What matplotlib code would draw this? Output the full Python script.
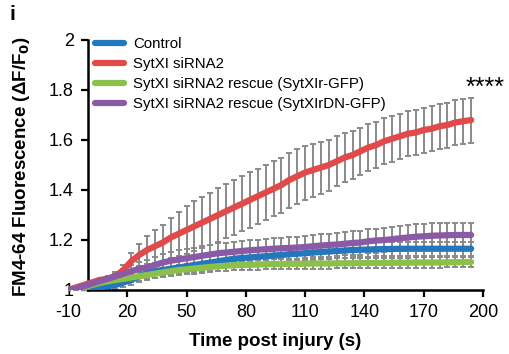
import numpy as np
from matplotlib import pyplot as plt

plt.rcParams['font.family'] = ['Liberation Sans', 'DejaVu Sans']
plt.rcParams['axes.unicode_minus'] = False

# time points (s)
time_s = list(range(-10, 195, 4))

control = [1.00, 1.00, 1.005, 1.01, 1.012, 1.015, 1.02, 1.03, 1.04, 1.055,
           1.068, 1.075, 1.08, 1.085, 1.09, 1.095, 1.10, 1.105, 1.11, 1.115,
           1.12, 1.125, 1.128, 1.13, 1.133, 1.135, 1.138, 1.14, 1.143, 1.145,
           1.147, 1.15, 1.152, 1.154, 1.156, 1.158, 1.16, 1.161, 1.162, 1.163,
           1.164, 1.164, 1.165, 1.165, 1.165, 1.165, 1.165, 1.165, 1.165, 1.165,
           1.165, 1.165]
sirna2 = [1.00, 1.01, 1.02, 1.03, 1.04, 1.045, 1.055, 1.08, 1.115, 1.14,
          1.16, 1.175, 1.19, 1.21, 1.225, 1.24, 1.255, 1.27, 1.285, 1.30,
          1.315, 1.33, 1.345, 1.36, 1.375, 1.39, 1.405, 1.42, 1.44, 1.455,
          1.47, 1.48, 1.49, 1.50, 1.515, 1.53, 1.54, 1.555, 1.57, 1.58,
          1.595, 1.605, 1.615, 1.625, 1.63, 1.64, 1.645, 1.655, 1.66, 1.67,
          1.675, 1.68]
rescue = [1.00, 1.005, 1.01, 1.02, 1.028, 1.035, 1.04, 1.045, 1.05, 1.055,
          1.06, 1.065, 1.07, 1.075, 1.08, 1.083, 1.086, 1.089, 1.092, 1.095,
          1.097, 1.099, 1.10, 1.101, 1.102, 1.103, 1.104, 1.104, 1.105, 1.105,
          1.105, 1.106, 1.106, 1.106, 1.107, 1.107, 1.107, 1.108, 1.108, 1.108,
          1.108, 1.109, 1.109, 1.109, 1.11, 1.11, 1.11, 1.11, 1.111, 1.111,
          1.112, 1.112]
rescue_dn = [1.00, 1.005, 1.015, 1.025, 1.035, 1.045, 1.055, 1.065, 1.075, 1.085,
             1.09, 1.10, 1.11, 1.117, 1.122, 1.127, 1.132, 1.137, 1.142, 1.147,
             1.15, 1.153, 1.156, 1.159, 1.161, 1.163, 1.165, 1.167, 1.168, 1.17,
             1.172, 1.175, 1.178, 1.18, 1.182, 1.185, 1.188, 1.19, 1.195, 1.198,
             1.20, 1.203, 1.207, 1.21, 1.213, 1.215, 1.217, 1.218, 1.219, 1.22,
             1.22, 1.22]

# SEM
control_err = [0.0, 0.003, 0.005, 0.008, 0.01, 0.012, 0.015, 0.018, 0.02, 0.022,
               0.024, 0.025, 0.025, 0.026, 0.026, 0.027, 0.027, 0.027, 0.028, 0.028,
               0.028, 0.028, 0.028, 0.028, 0.028, 0.028, 0.028, 0.028, 0.028, 0.028,
               0.028, 0.028, 0.028, 0.028, 0.028, 0.028, 0.028, 0.028, 0.028, 0.028,
               0.028, 0.028, 0.028, 0.028, 0.028, 0.028, 0.028, 0.028, 0.028, 0.028,
               0.028, 0.028]
sirna2_err = [0.0, 0.003, 0.005, 0.006, 0.008, 0.009, 0.012, 0.022, 0.033, 0.045,
              0.055, 0.065, 0.072, 0.08, 0.088, 0.095, 0.10, 0.103, 0.105, 0.107,
              0.108, 0.109, 0.11, 0.11, 0.11, 0.11, 0.11, 0.11, 0.11, 0.11,
              0.108, 0.106, 0.104, 0.102, 0.10, 0.098, 0.096, 0.095, 0.094, 0.093,
              0.092, 0.091, 0.09, 0.09, 0.09, 0.09, 0.09, 0.09, 0.09, 0.09,
              0.09, 0.09]
rescue_err = [0.0, 0.003, 0.005, 0.008, 0.01, 0.012, 0.014, 0.015, 0.016, 0.017,
              0.018, 0.018, 0.019, 0.019, 0.02, 0.02, 0.02, 0.02, 0.02, 0.02,
              0.02, 0.02, 0.02, 0.02, 0.02, 0.02, 0.02, 0.02, 0.02, 0.02,
              0.02, 0.02, 0.02, 0.02, 0.02, 0.02, 0.02, 0.02, 0.02, 0.02,
              0.02, 0.02, 0.02, 0.02, 0.02, 0.02, 0.02, 0.02, 0.02, 0.02,
              0.02, 0.02]
rescue_dn_err = [0.0, 0.003, 0.005, 0.008, 0.01, 0.013, 0.016, 0.02, 0.024, 0.027,
                 0.03, 0.032, 0.034, 0.035, 0.036, 0.037, 0.038, 0.039, 0.04, 0.04,
                 0.04, 0.04, 0.04, 0.041, 0.041, 0.042, 0.042, 0.043, 0.043, 0.044,
                 0.044, 0.045, 0.045, 0.046, 0.046, 0.047, 0.047, 0.048, 0.048, 0.048,
                 0.049, 0.049, 0.05, 0.05, 0.05, 0.05, 0.05, 0.05, 0.05, 0.05,
                 0.05, 0.05]

labels = ['Control', 'SytXI siRNA2', 'SytXI siRNA2 rescue (SytXIr-GFP)',
          'SytXI siRNA2 rescue (SytXIrDN-GFP)']
colors = ['#2378bd', '#e04a4a', '#8cc04b', '#8b5aa6']

x_ticks = [-10, 20, 50, 80, 110, 140, 170, 200]
y_ticks = [1, 1.2, 1.4, 1.6, 1.8, 2]
y_tick_labels = ['1', '1.2', '1.4', '1.6', '1.8', '2']

fig = plt.figure(figsize=(5.09, 3.54), dpi=100)
ax = fig.add_axes([68 / 509, 64 / 354, 415 / 509, 250 / 354])

series = [(control, control_err), (sirna2, sirna2_err),
          (rescue, rescue_err), (rescue_dn, rescue_dn_err)]
# purple drawn on top, then red, green, blue
z_order = {0: 3, 2: 4, 1: 5, 3: 6}
for i, (vals, err) in enumerate(series):
    ax.errorbar(time_s, vals, yerr=err, fmt='none', ecolor='#8a8a8a',
                elinewidth=1.4, capsize=2.5, capthick=1.4, zorder=2)
for i, (vals, err) in enumerate(series):
    ax.plot(time_s, vals, color=colors[i], lw=4.5, solid_capstyle='round',
            label=labels[i], zorder=z_order[i])

ax.set_xlim(-10, 200)
ax.set_ylim(1, 2)
ax.set_xticks(x_ticks)
ax.set_yticks(y_ticks)
ax.set_yticklabels(y_tick_labels)

ax.spines['top'].set_visible(False)
ax.spines['right'].set_visible(False)
ax.spines['left'].set_position(('data', 0))
ax.spines['bottom'].set_bounds(0, 200)
ax.spines['left'].set_linewidth(1.8)
ax.spines['bottom'].set_linewidth(1.8)
ax.tick_params(direction='out', length=5, width=1.6, labelsize=13, pad=5)
ax.xaxis.get_major_ticks()[0].tick1line.set_visible(False)

ax.set_xlabel('Time post injury (s)', fontsize=13.5, fontweight='bold', labelpad=9)
fig.text(22 / 509, 1 - 167 / 354, r'FM4-64 Fluorescence (ΔF/F$_\mathbf{0}$)',
         rotation=90, fontsize=13.5, fontweight='bold', ha='center', va='center')

leg = ax.legend(loc='upper left', bbox_to_anchor=(0.05, 1.035), frameon=False,
                fontsize=10.8, handlelength=1.95, handletextpad=0.6,
                labelspacing=0.4, borderaxespad=0)
for line in leg.get_lines():
    line.set_linewidth(4.5)

ax.text(201, 1.81, '****', fontsize=18, ha='center', va='center', clip_on=False)
fig.text(12 / 509, 1 - 15 / 354, 'i', fontsize=15, fontweight='bold',
         ha='center', va='center')

fig.savefig('out.png', dpi=100)
